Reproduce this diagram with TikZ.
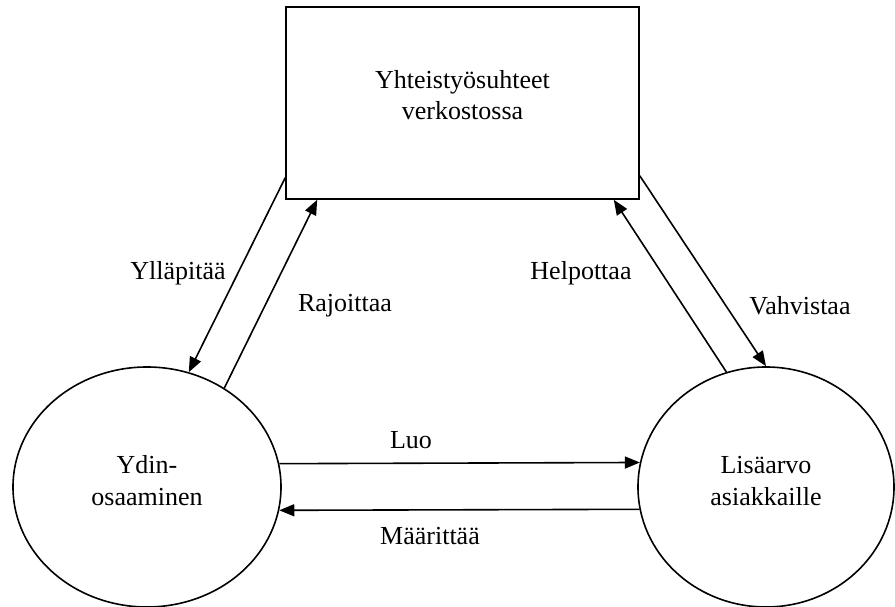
\documentclass[tikz,border=0pt]{standalone}
\usepackage{fontspec}
\setmainfont{Liberation Serif}
\usetikzlibrary{arrows.meta,shapes.geometric}
\newcommand{\twolines}[3]{\raisebox{#1}[\height][\depth]{\begin{tabular}{@{}c@{}}#2\\#3\end{tabular}}}
\begin{document}
\begin{tikzpicture}[x=1pt,y=1pt,
  every node/.style={font=\fontsize{26}{31.5}\selectfont},
  box/.style={draw,line width=1.6pt,minimum width=353pt,minimum height=192pt,inner sep=0pt},
  oval/.style={draw,ellipse,line width=1.6pt,minimum height=240pt,inner sep=0pt},
  conn/.style={line width=1.6pt,-{Triangle[length=15pt,width=12pt]}},
  lbl/.style={inner sep=0pt}]
\useasboundingbox (0,0) rectangle (895,607);
\node[box] (R) at (462.5,504) {\twolines{5.5pt}{Yhteistyösuhteet}{verkostossa}};
\node[oval,minimum width=268pt] (L) at (147,120) {\twolines{4pt}{Ydin-}{osaaminen}};
\node[oval,minimum width=256pt] (Q) at (766,120) {\twolines{4pt}{Lisäarvo}{asiakkaille}};
\coordinate (r1) at ([yshift=22pt]R.south west);
\coordinate (r2) at ([xshift=32pt]R.south west);
\coordinate (r3) at ([xshift=-26pt]R.south east);
\coordinate (r4) at ([yshift=24pt]R.south east);
\draw[conn] (r1) -- (L.70);
\draw[conn] (L.52) -- (r2);
\draw[conn] (Q.109) -- (r3);
\draw[conn] (r4) -- (Q.north);
\draw[conn] (L.10.4) -- (Q.169.6);
\draw[conn] (Q.190.4) -- (L.-10.4);
\node[lbl] (t1) at (178,334) {Ylläpitää};
\node[lbl] (t2) at (345,301) {Rajoittaa};
\node[lbl] (t3) at (581,334) {Helpottaa};
\node[lbl] (t4) at (800,301) {Vahvistaa};
\node[lbl] (t5) at (411,167) {Luo};
\node[lbl] (t6) at (430,71) {Määrittää};
\end{tikzpicture}
\end{document}
